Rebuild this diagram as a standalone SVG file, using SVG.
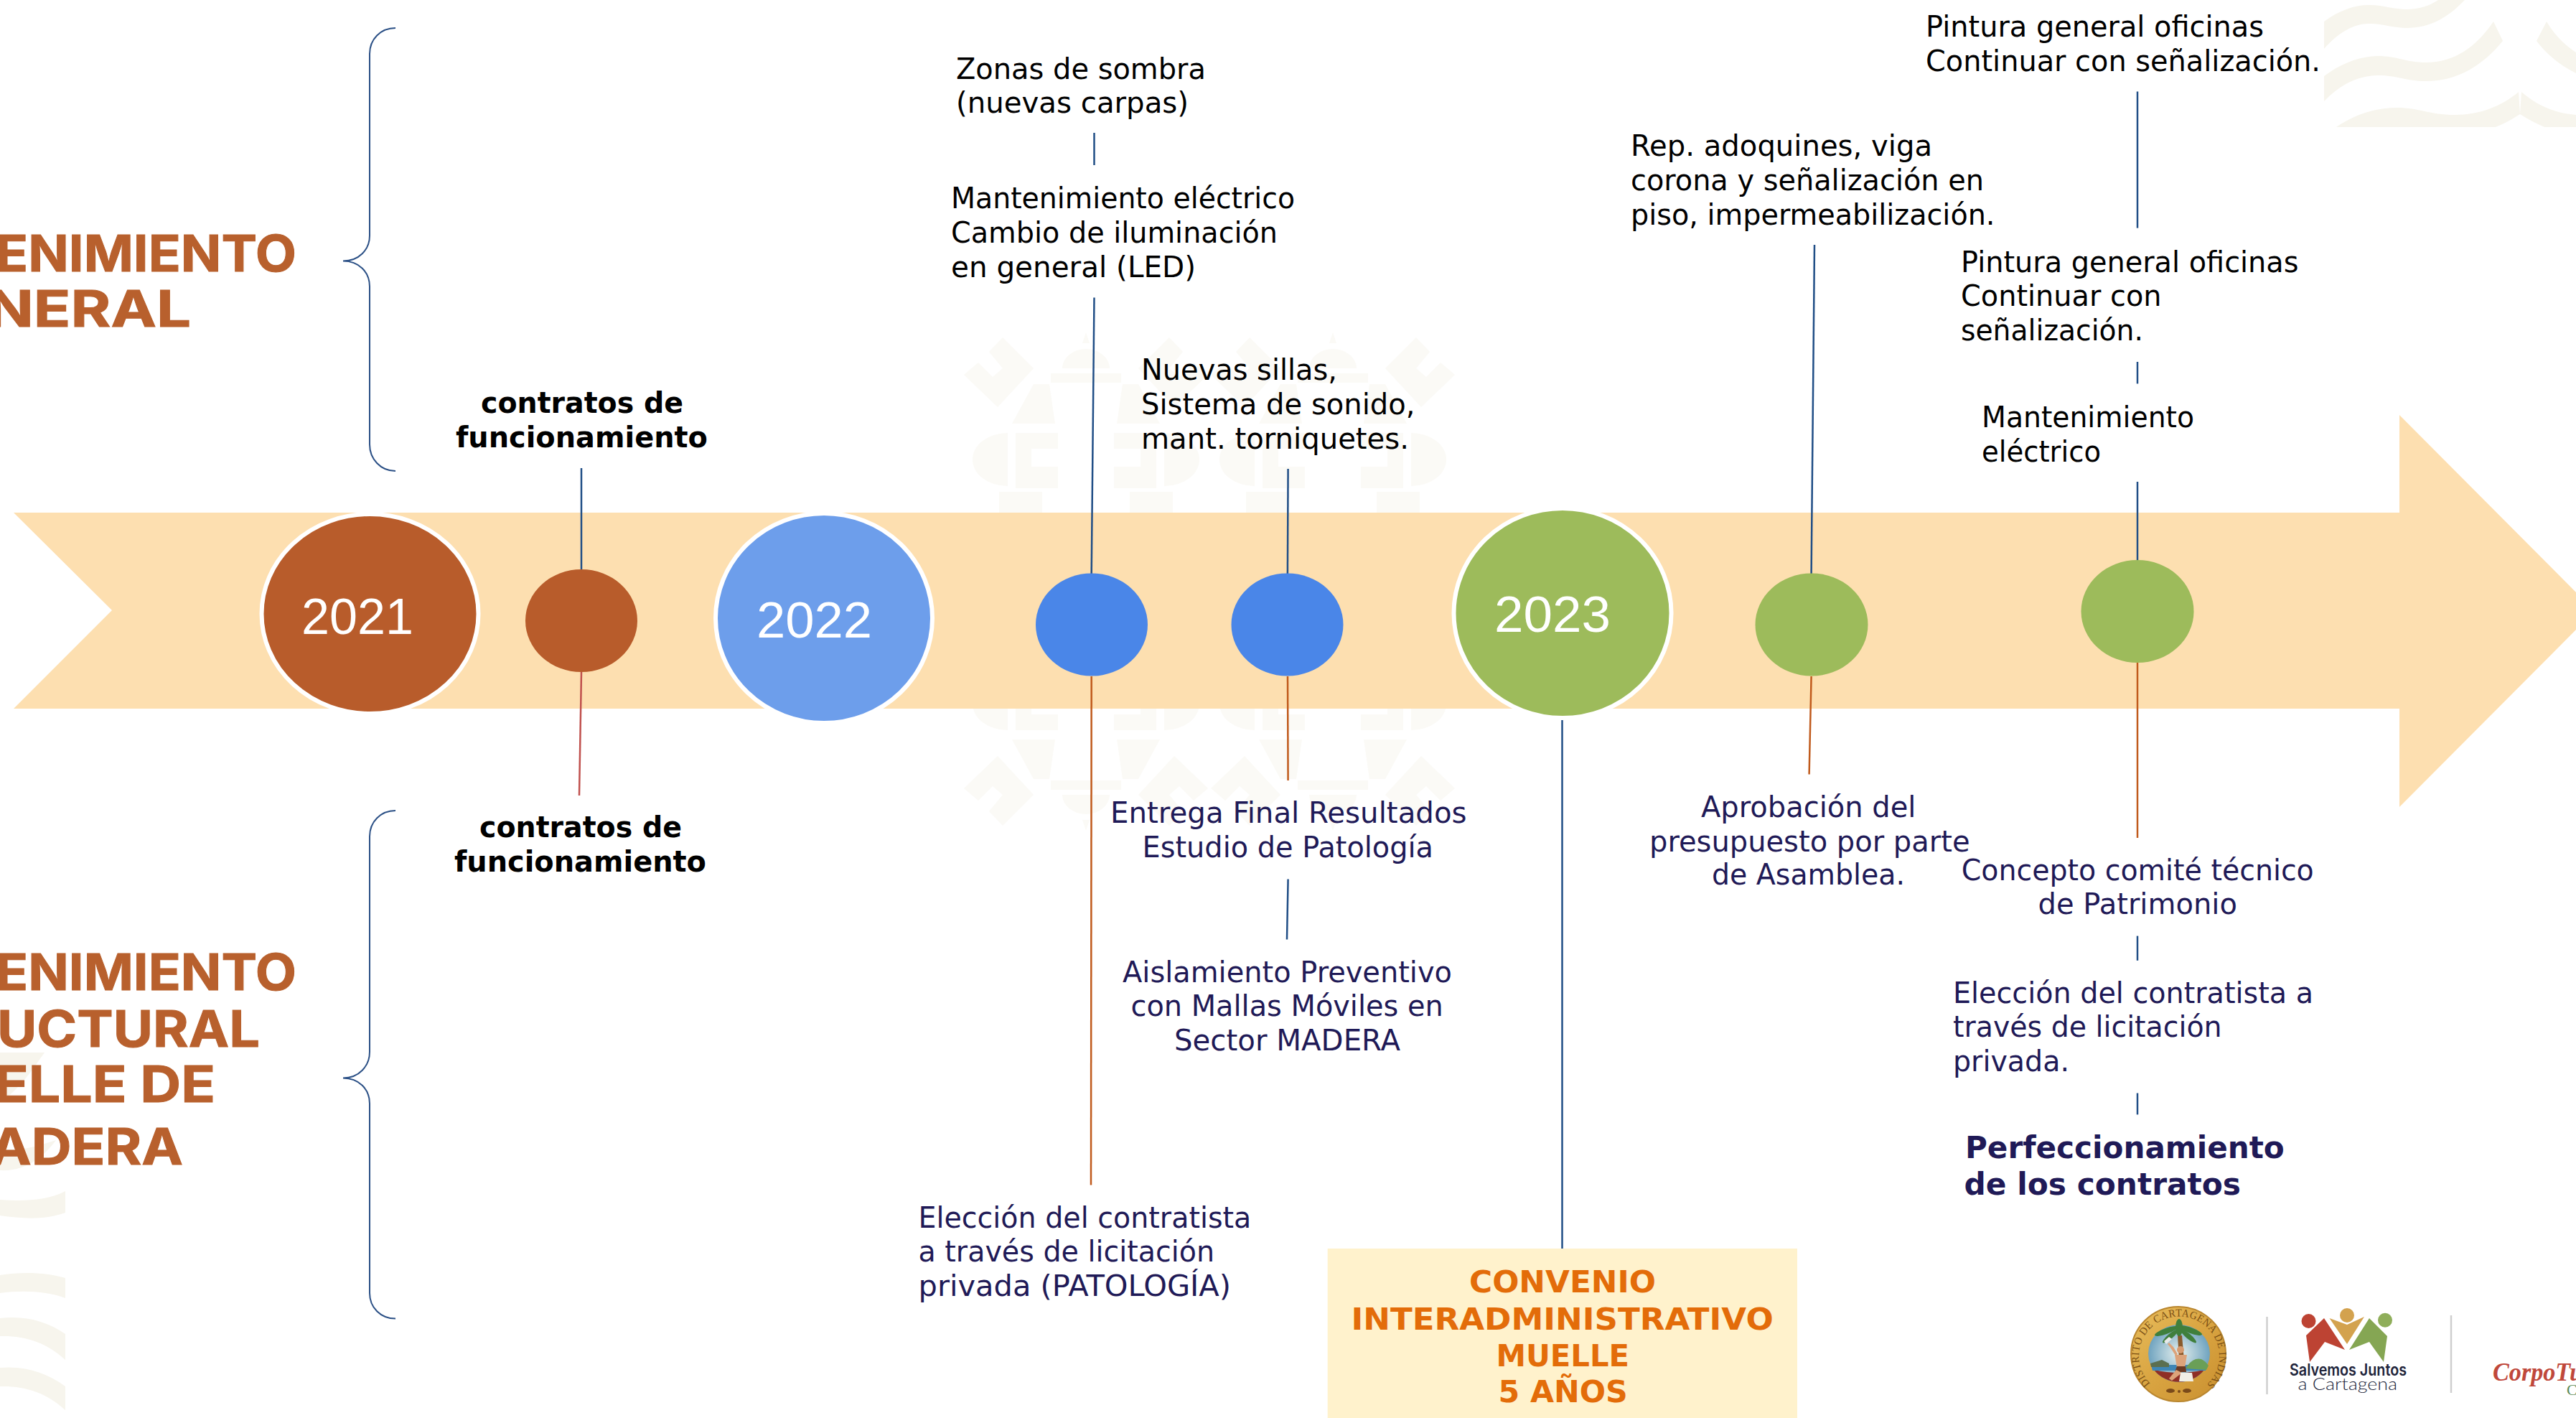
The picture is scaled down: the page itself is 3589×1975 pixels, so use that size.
<svg xmlns="http://www.w3.org/2000/svg" xmlns:xlink="http://www.w3.org/1999/xlink" width="3589" height="1975" viewBox="0 0 3589 1975">
<style>
text{font-family:"DejaVu Sans","Liberation Sans",sans-serif}
.blk{font-size:40px;fill:#000}
.nav{font-size:40px;fill:#1f1a57}
.bb{font-size:40px;font-weight:700;fill:#000}
.pf{font-size:42px;font-weight:700;fill:#1f1a57}
.or{font-size:43.5px;font-weight:700;fill:#e36c09}
.yr{font-family:"Liberation Sans",Arial,sans-serif;font-size:71px;fill:#fff}
.ti{font-family:Inter,"Liberation Sans",sans-serif;font-size:70px;font-weight:700;fill:#b8602d;stroke:#b8602d;stroke-width:1}
.w{fill:#f7f5ed}
.e{fill:#fbfaf6}
.c{fill:none;stroke-width:2.5}
.cb{stroke:#204e86}
.co{stroke:#c05a1c}
.cr{stroke:#c0504d}
.br{fill:none;stroke:#2a4f85;stroke-width:2}
.sep{stroke:#cfcfcf;stroke-width:2.5}
.big{stroke:#fff;stroke-width:6}
</style>
<defs>
<linearGradient id="gold" x1="0" y1="0" x2="1" y2="1"><stop offset="0" stop-color="#e8bd5c"/><stop offset=".5" stop-color="#d9a441"/><stop offset="1" stop-color="#c98f2f"/></linearGradient>
<radialGradient id="sky"><stop offset="0" stop-color="#e6f0ee"/><stop offset="1" stop-color="#6fa3bf"/></radialGradient>
<path id="ring" d="M2996,1927 A56,55 0 1 1 3076,1927"/>
<g id="ehalf">
<path d="M1397,470 L1440,513 L1390,567 L1343,522 L1363,505 L1383,525 L1397,513 L1378,490Z"/>
<path d="M1480,513 A33,27 0 0 1 1546,513Z"/>
<path d="M1513,463 L1518,478 L1508,478Z"/>
<rect x="1464" y="520" width="98" height="13"/>
<path d="M1404,603 L1404,677 A49,37 0 0 1 1404,603Z"/>
<path d="M1415,603 L1474,603 L1474,625 L1437,625 L1437,650 L1474,650 L1474,680 L1415,680Z"/>
<path d="M1440,535 L1462,535 L1470,590 L1410,590Z"/>
<rect x="1392" y="685" width="60" height="30"/>
<path d="M1622,603 L1622,677 A49,37 0 0 0 1622,603Z"/>
<path d="M1552,603 L1611,603 L1611,680 L1552,680 L1552,650 L1589,650 L1589,625 L1552,625Z"/>
<path d="M1629,470 L1586,513 L1636,567 L1683,522 L1663,505 L1643,525 L1629,513 L1648,490Z"/>
<path d="M1586,535 L1564,535 L1556,590 L1616,590Z"/>
<rect x="1574" y="685" width="60" height="30"/>
</g>
<g id="emblem"><use xlink:href="#ehalf" href="#ehalf"/><use xlink:href="#ehalf" href="#ehalf" transform="matrix(1 0 0 -1 0 1620)"/></g>
</defs>
<rect width="3589" height="1975" fill="#fff"/>

<g id="watermarks">
<path class="w" d="M3238,30 C3258,15 3280,7 3300,7 C3320,7 3335,13 3353,13 C3370,13 3385,8 3397,0 L3434,0 C3410,25 3385,39 3353,39 C3335,39 3320,33 3300,33 C3280,33 3258,45 3238,68Z"/>
<path class="w" d="M3238,106 C3262,88 3288,78 3313,78 C3340,78 3352,87 3380,87 C3420,87 3450,65 3474,30 L3487,57 C3460,90 3425,113 3380,113 C3352,113 3340,105 3313,105 C3285,105 3260,118 3238,141Z"/>
<path class="w" d="M3548,30 C3558,47 3572,62 3589,73 L3589,102 C3567,91 3548,76 3534,57Z"/>
<path class="w" d="M3255,177 C3283,158 3312,150 3340,150 C3370,150 3385,160 3420,160 C3455,160 3485,148 3509,128 L3511,159 C3500,166 3490,172 3477,177Z"/>
<path class="w" d="M3513,128 C3535,147 3560,158 3589,160 L3589,177 L3545,177 C3533,172 3522,166 3511,159Z"/>
<path class="w" d="M0,1466 L62,1466 C45,1490 25,1520 0,1535Z"/>
<path class="w" d="M0,1600 C30,1605 55,1595 78,1588 C60,1612 35,1632 0,1630Z"/>
<path class="w" d="M0,1671 C30,1673 65,1673 91,1659 L91,1689 C60,1700 30,1697 0,1693Z"/>
<path class="w" d="M0,1776 C30,1771 65,1772 91,1780 L91,1808 C65,1798 30,1797 0,1801Z"/>
<path class="w" d="M0,1836 C35,1832 65,1840 91,1858 L91,1894 C65,1870 35,1860 0,1861Z"/>
<path class="w" d="M0,1905 C35,1902 65,1912 91,1931 L91,1964 C65,1940 35,1930 0,1931Z"/>
<use class="e" xlink:href="#emblem" href="#emblem"/>
<use class="e" xlink:href="#emblem" href="#emblem" transform="translate(344 0)"/>
</g>

<g id="titles">
<text class="ti" x="-6" y="378" textLength="419" lengthAdjust="spacingAndGlyphs">ENIMIENTO</text>
<text class="ti" x="-18" y="455" textLength="284" lengthAdjust="spacingAndGlyphs">NERAL</text>
<text class="ti" x="-6" y="1379" textLength="419" lengthAdjust="spacingAndGlyphs">ENIMIENTO</text>
<text class="ti" x="-4" y="1457.5" textLength="366" lengthAdjust="spacingAndGlyphs">UCTURAL</text>
<text class="ti" x="-8" y="1535" textLength="308" lengthAdjust="spacingAndGlyphs">ELLE DE</text>
<text class="ti" x="-14" y="1622" textLength="269" lengthAdjust="spacingAndGlyphs">ADERA</text>
</g>

<g id="braces">
<path class="br" d="M551,39 C530,39 515,55 515,75 L515,328 C515,348 500,363.5 478,363.5 C500,363.5 515,379 515,399 L515,619 C515,639 530,656 551,656"/>
<path class="br" d="M551,1129 C530,1129 515,1145 515,1165 L515,1465 C515,1485 500,1501.4 478,1501.4 C500,1501.4 515,1517 515,1537 L515,1801 C515,1821 530,1836.6 551,1836.6"/>
</g>

<g id="timeline-arrow"><path fill="#fddfb0" d="M19,714 L3343,714 L3343,578 L3615,851 L3343,1124 L3343,987 L19,987 L156,850Z"/></g>

<g id="connectors">
<line class="c cb" x1="810" y1="652" x2="810" y2="793"/>
<line class="c cr" x1="810" y1="936" x2="807" y2="1108"/>
<line class="c cb" x1="1524.5" y1="185" x2="1524.5" y2="230"/>
<line class="c cb" x1="1524.5" y1="414.5" x2="1520.7" y2="799"/>
<line class="c cb" x1="1794.6" y1="653" x2="1793.9" y2="799"/>
<line class="c co" x1="1520.7" y1="942" x2="1520" y2="1650.6"/>
<line class="c co" x1="1794" y1="942" x2="1794.6" y2="1087"/>
<line class="c cb" x1="1794.6" y1="1224.6" x2="1793" y2="1308.6"/>
<line class="c cb" x1="2176.5" y1="1003" x2="2176.5" y2="1739"/>
<line class="c cb" x1="2528" y1="341" x2="2523.6" y2="799"/>
<line class="c co" x1="2523.6" y1="942" x2="2520.6" y2="1078.5"/>
<line class="c cb" x1="2978" y1="127.5" x2="2978" y2="317.6"/>
<line class="c cb" x1="2978" y1="504" x2="2978" y2="534.4"/>
<line class="c cb" x1="2978" y1="671" x2="2978" y2="781"/>
<line class="c co" x1="2978" y1="923" x2="2978" y2="1167"/>
<line class="c cb" x1="2978" y1="1303.6" x2="2978" y2="1337.8"/>
<line class="c cb" x1="2978" y1="1522.5" x2="2978" y2="1552.4"/>
</g>

<g id="node-2021"><ellipse class="big" cx="515.5" cy="855" rx="151" ry="139" fill="#b85c2b"/><text class="yr" x="420" y="883" textLength="156" lengthAdjust="spacingAndGlyphs">2021</text></g>
<g id="node-b1"><ellipse cx="810" cy="864.5" rx="78" ry="71.5" fill="#b85c2b"/></g>
<g id="node-2022"><ellipse class="big" cx="1148" cy="861" rx="151" ry="146" fill="#6d9eeb"/><text class="yr" x="1054" y="888" textLength="161" lengthAdjust="spacingAndGlyphs">2022</text></g>
<g id="node-m1"><ellipse cx="1521" cy="870" rx="78" ry="71.5" fill="#4a86e8"/></g>
<g id="node-m2"><ellipse cx="1793.5" cy="870" rx="78" ry="71.5" fill="#4a86e8"/></g>
<g id="node-2023"><ellipse class="big" cx="2177" cy="854" rx="151.5" ry="146" fill="#9dbb5b"/><text class="yr" x="2082" y="880" textLength="162" lengthAdjust="spacingAndGlyphs">2023</text></g>
<g id="node-g1"><ellipse cx="2524" cy="870" rx="78.5" ry="71.5" fill="#9dbb5b"/></g>
<g id="node-g2"><ellipse cx="2978" cy="851.5" rx="78.5" ry="71.5" fill="#9dbb5b"/></g>

<g id="label-contratos-top">
<text class="bb" x="670" y="574.5" textLength="282" lengthAdjust="spacingAndGlyphs">contratos de</text>
<text class="bb" x="635" y="622.5" textLength="351" lengthAdjust="spacingAndGlyphs">funcionamiento</text>
</g>
<g id="label-contratos-bottom">
<text class="bb" x="668" y="1166" textLength="282" lengthAdjust="spacingAndGlyphs">contratos de</text>
<text class="bb" x="633" y="1214" textLength="351" lengthAdjust="spacingAndGlyphs">funcionamiento</text>
</g>
<g id="label-zonas">
<text class="blk" x="1332" y="110" textLength="348" lengthAdjust="spacingAndGlyphs">Zonas de sombra</text>
<text class="blk" x="1332" y="157" textLength="324" lengthAdjust="spacingAndGlyphs">(nuevas carpas)</text>
</g>
<g id="label-mant-electrico">
<text class="blk" x="1325" y="290" textLength="479" lengthAdjust="spacingAndGlyphs">Mantenimiento eléctrico</text>
<text class="blk" x="1325" y="338" textLength="455" lengthAdjust="spacingAndGlyphs">Cambio de iluminación</text>
<text class="blk" x="1325" y="386" textLength="341" lengthAdjust="spacingAndGlyphs">en general (LED)</text>
</g>
<g id="label-sillas">
<text class="blk" x="1590" y="529" textLength="273" lengthAdjust="spacingAndGlyphs">Nuevas sillas,</text>
<text class="blk" x="1590" y="577" textLength="381.5" lengthAdjust="spacingAndGlyphs">Sistema de sonido,</text>
<text class="blk" x="1590" y="625" textLength="373" lengthAdjust="spacingAndGlyphs">mant. torniquetes.</text>
</g>
<g id="label-adoquines">
<text class="blk" x="2272" y="217" textLength="420" lengthAdjust="spacingAndGlyphs">Rep. adoquines, viga</text>
<text class="blk" x="2272" y="265" textLength="492" lengthAdjust="spacingAndGlyphs">corona y señalización en</text>
<text class="blk" x="2272" y="312.5" textLength="507.5" lengthAdjust="spacingAndGlyphs">piso, impermeabilización.</text>
</g>
<g id="label-pintura-1">
<text class="blk" x="2683" y="51" textLength="471" lengthAdjust="spacingAndGlyphs">Pintura general oficinas</text>
<text class="blk" x="2683" y="98.5" textLength="550" lengthAdjust="spacingAndGlyphs">Continuar con señalización.</text>
</g>
<g id="label-pintura-2">
<text class="blk" x="2732" y="379" textLength="470.5" lengthAdjust="spacingAndGlyphs">Pintura general oficinas</text>
<text class="blk" x="2732" y="426" textLength="279.5" lengthAdjust="spacingAndGlyphs">Continuar con</text>
<text class="blk" x="2732" y="474" textLength="254" lengthAdjust="spacingAndGlyphs">señalización.</text>
</g>
<g id="label-mant-2">
<text class="blk" x="2761" y="595" textLength="296" lengthAdjust="spacingAndGlyphs">Mantenimiento</text>
<text class="blk" x="2761" y="643" textLength="166" lengthAdjust="spacingAndGlyphs">eléctrico</text>
</g>
<g id="label-entrega">
<text class="nav" x="1547" y="1146" textLength="496.6" lengthAdjust="spacingAndGlyphs">Entrega Final Resultados</text>
<text class="nav" x="1591.6" y="1194" textLength="405.4" lengthAdjust="spacingAndGlyphs">Estudio de Patología</text>
</g>
<g id="label-aislamiento">
<text class="nav" x="1564" y="1368" textLength="459" lengthAdjust="spacingAndGlyphs">Aislamiento Preventivo</text>
<text class="nav" x="1575.5" y="1415" textLength="435.2" lengthAdjust="spacingAndGlyphs">con Mallas Móviles en</text>
<text class="nav" x="1636" y="1462.5" textLength="315" lengthAdjust="spacingAndGlyphs">Sector MADERA</text>
</g>
<g id="label-eleccion-1">
<text class="nav" x="1279.5" y="1710" textLength="463.8" lengthAdjust="spacingAndGlyphs">Elección del contratista</text>
<text class="nav" x="1279.5" y="1757" textLength="412.6" lengthAdjust="spacingAndGlyphs">a través de licitación</text>
<text class="nav" x="1279.5" y="1804.5" textLength="435.5" lengthAdjust="spacingAndGlyphs">privada (PATOLOGÍA)</text>
</g>
<g id="node-convenio">
<rect x="1849.7" y="1739" width="654.3" height="236" fill="#fff2cc"/>
<text class="or" x="2047" y="1800" textLength="260" lengthAdjust="spacingAndGlyphs">CONVENIO</text>
<text class="or" x="1882.4" y="1852" textLength="588.4" lengthAdjust="spacingAndGlyphs">INTERADMINISTRATIVO</text>
<text class="or" x="2084.4" y="1903" textLength="185.6" lengthAdjust="spacingAndGlyphs">MUELLE</text>
<text class="or" x="2087.5" y="1953" textLength="180.3" lengthAdjust="spacingAndGlyphs">5 AÑOS</text>
</g>
<g id="label-aprobacion">
<text class="nav" x="2370" y="1138" textLength="299.4" lengthAdjust="spacingAndGlyphs">Aprobación del</text>
<text class="nav" x="2298" y="1185.7" textLength="446.5" lengthAdjust="spacingAndGlyphs">presupuesto por parte</text>
<text class="nav" x="2385" y="1232" textLength="269" lengthAdjust="spacingAndGlyphs">de Asamblea.</text>
</g>
<g id="label-concepto">
<text class="nav" x="2732.7" y="1226" textLength="491.1" lengthAdjust="spacingAndGlyphs">Concepto comité técnico</text>
<text class="nav" x="2839.6" y="1273.4" textLength="277.3" lengthAdjust="spacingAndGlyphs">de Patrimonio</text>
</g>
<g id="label-eleccion-2">
<text class="nav" x="2721" y="1396.5" textLength="502" lengthAdjust="spacingAndGlyphs">Elección del contratista a</text>
<text class="nav" x="2721" y="1444.4" textLength="374.6" lengthAdjust="spacingAndGlyphs">través de licitación</text>
<text class="nav" x="2721" y="1492.3" textLength="162" lengthAdjust="spacingAndGlyphs">privada.</text>
</g>
<g id="label-perfeccionamiento">
<text class="pf" x="2738" y="1613" textLength="444.8" lengthAdjust="spacingAndGlyphs">Perfeccionamiento</text>
<text class="pf" x="2736.5" y="1664" textLength="385.5" lengthAdjust="spacingAndGlyphs">de los contratos</text>
</g>

<g id="logos">
<g id="seal">
<ellipse cx="3035" cy="1886" rx="66" ry="66" fill="url(#gold)" stroke="#b9862f" stroke-width="2"/>
<ellipse cx="3036" cy="1885" rx="43" ry="40" fill="url(#sky)"/>
<path d="M3001,1908 Q3037,1916 3071,1908 A43,40 0 0 1 3001,1908Z" fill="#8f2f26"/>
<path d="M2997,1901 L3075,1901 L3073,1909 L2999,1909Z" fill="#3f86b5"/>
<path d="M3045,1906 Q3055,1890 3067,1893 Q3073,1896 3077,1902 L3074,1908Z" fill="#6a9f57"/>
<path d="M2996,1899 L3012,1894 L3022,1899 L3022,1904 L2997,1904Z" fill="#5b6f50"/>
<path d="M3034,1860 L3040,1860 L3043,1895 L3036,1895Z" fill="#8a5a2b"/>
<g fill="#3f7f3c"><ellipse cx="3018" cy="1854" rx="17" ry="4" transform="rotate(-20 3018 1854)"/><ellipse cx="3052" cy="1853" rx="17" ry="4" transform="rotate(20 3052 1853)"/><ellipse cx="3036" cy="1849" rx="5" ry="12"/><ellipse cx="3024" cy="1861" rx="14" ry="3.5" transform="rotate(-40 3024 1861)"/><ellipse cx="3049" cy="1861" rx="14" ry="3.5" transform="rotate(40 3049 1861)"/></g>
<circle cx="3038" cy="1880" r="5" fill="#d69a6f"/>
<path d="M3030,1887 L3047,1887 L3044,1905 L3033,1905Z" fill="#dca37a"/>
<path d="M3033,1903 L3045,1903 L3046,1911 L3030,1911Z" fill="#6b3a22"/>
<path d="M3032,1908 L3022,1920 L3026,1923 L3040,1912Z" fill="#dca37a"/>
<path d="M3038,1912 L3054,1912 L3056,1924 L3036,1924Z" fill="#f1efe6"/>
<path d="M3031,1888 L3024,1877 L3020,1872 L3022,1870 L3028,1876 L3034,1886Z" fill="#dca37a"/>
<path d="M3018,1872 L3026,1865 L3022,1862 L3015,1868Z" fill="#e9e9e9"/>
<text font-size="15" fill="#7a4f14" style="font-family:'Liberation Serif',serif" letter-spacing="0.5"><textPath xlink:href="#ring" href="#ring" textLength="262" lengthAdjust="spacingAndGlyphs">DISTRITO DE CARTAGENA DE INDIAS</textPath></text>
<g fill="#7a4a1a"><ellipse cx="3024" cy="1937" rx="6" ry="3"/><circle cx="3036" cy="1938" r="2"/><ellipse cx="3047" cy="1937" rx="6" ry="3"/></g>
</g>
<line class="sep" x1="3158.5" y1="1834" x2="3158.5" y2="1942"/>
<g id="salvemos">
<circle cx="3216.5" cy="1840" r="10" fill="#bd4333"/>
<circle cx="3270" cy="1832" r="10" fill="#d3a24e"/>
<circle cx="3323" cy="1838.7" r="10" fill="#8fae5a"/>
<path d="M3238,1836 L3267,1880 L3239,1869 L3218,1897 L3213,1860Z" fill="#bd4333"/>
<path d="M3245.5,1836 L3270,1845 L3294,1834 L3270,1872Z" fill="#d3a24e"/>
<path d="M3301,1836 L3326,1861 L3321,1897 L3301,1869 L3273,1880Z" fill="#85a653"/>
<text x="3190" y="1916" font-size="23" font-weight="600" fill="#20243a" style="font-family:Inter,sans-serif" textLength="163" lengthAdjust="spacingAndGlyphs">Salvemos Juntos</text>
<text x="3201.6" y="1935.7" font-size="24" fill="#20243a" style="font-family:Lato,sans-serif;font-weight:300" textLength="138.4" lengthAdjust="spacingAndGlyphs">a Cartagena</text>
</g>
<line class="sep" x1="3415" y1="1832" x2="3415" y2="1940"/>
<g id="corpoturismo">
<text x="3473" y="1923" font-size="36" font-style="italic" font-weight="700" fill="#c0483b" style="font-family:'Liberation Serif',serif" textLength="126" lengthAdjust="spacingAndGlyphs">CorpoTu</text>
<text x="3576" y="1943" font-size="22" fill="#5b8a58" style="font-family:'Liberation Serif',serif">C</text>
</g>
</g>
</svg>
